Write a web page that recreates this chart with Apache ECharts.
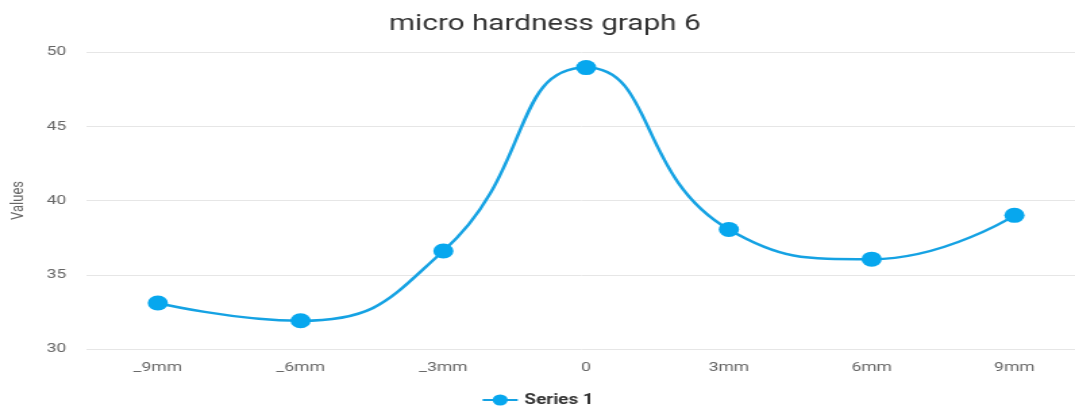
<!DOCTYPE html>
<html>
<head>
<meta charset="utf-8">
<script src="https://cdn.jsdelivr.net/npm/echarts@6/dist/echarts.min.js"></script>
<style>
  html, body { margin: 0; padding: 0; background: #fff; overflow: hidden; }
  /* the reference picture is stretched sideways, so stretch the chart the same way */
  #main { width: 796px; height: 409px; transform: scaleX(1.3505); transform-origin: 0 0; }
</style>
</head>
<body>
<div id="main"></div>
<script>
var categories = ['_9mm', '_6mm', '_3mm', '0', '3mm', '6mm', '9mm'];
var series1 = [33.1, 31.9, 36.6, 48.95, 38.05, 36.05, 39];
var yTicks = { min: 30, max: 50, interval: 5 };

var chart = echarts.init(document.getElementById('main'));
chart.setOption({
    animation: false,
    title: {
        text: 'micro hardness graph 6',
        left: 283,
        top: 8,
        textStyle: { fontFamily: 'Roboto', fontSize: 22, fontWeight: 'normal', color: '#333' }
    },
    legend: {
        bottom: -3,
        left: 'center',
        itemWidth: 26,
        itemHeight: 14,
        textStyle: { fontFamily: 'Roboto', fontSize: 14, fontWeight: 'bold', color: '#333' }
    },
    grid: { left: 64, right: -8, top: 52, bottom: 60, outerBoundsMode: 'none' },
    xAxis: {
        type: 'category',
        data: categories,
        axisLine: { show: false },
        axisTick: { show: false },
        axisLabel: { fontFamily: 'Roboto', fontSize: 13, color: '#666', margin: 12 }
    },
    yAxis: {
        type: 'value',
        min: yTicks.min,
        max: yTicks.max,
        interval: yTicks.interval,
        name: 'Values',
        nameLocation: 'middle',
        nameGap: 44,
        nameTextStyle: { fontFamily: 'Roboto', fontSize: 13, color: '#666' },
        axisLabel: { fontFamily: 'Roboto', fontSize: 13, color: '#666', margin: 15 },
        splitLine: { lineStyle: { color: '#e6e6e6' } }
    },
    series: [{
        name: 'Series 1',
        type: 'line',
        data: series1,
        smooth: 0.5,
        symbol: 'circle',
        symbolSize: 15,
        itemStyle: { color: '#07a7ee' },
        lineStyle: { color: '#15a2e3', width: 2.5 }
    }]
});
</script>
</body>
</html>
